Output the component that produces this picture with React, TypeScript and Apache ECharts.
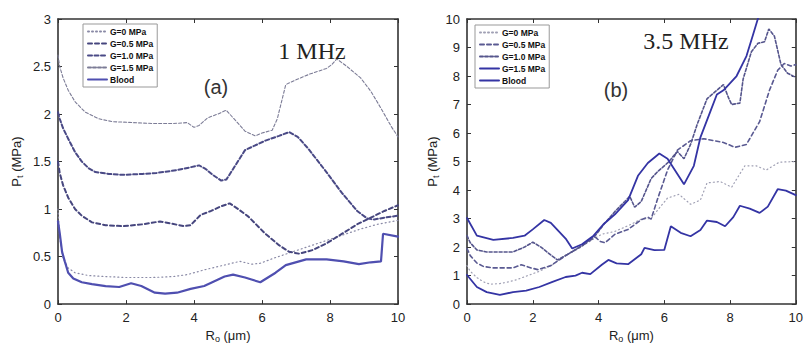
import React, { useEffect, useRef } from "react";
import * as echarts from "echarts";

// ---------- Data ----------
const xTicks = [0, 2, 4, 6, 8, 10];
const legendNames = ["G=0 MPa", "G=0.5 MPa", "G=1.0 MPa", "G=1.5 MPa", "Blood"];

// Panel (a) 1 MHz
const aG0 = [[0,1.0],[0.05,0.7],[0.15,0.48],[0.3,0.38],[0.5,0.33],[0.9,0.3],[1.4,0.29],[2.0,0.28],[2.8,0.28],[3.4,0.29],[3.8,0.31],[4.3,0.36],[5.0,0.42],[5.35,0.45],[5.7,0.42],[5.95,0.43],[6.4,0.49],[6.9,0.55],[7.4,0.61],[7.9,0.67],[8.4,0.73],[8.9,0.79],[9.4,0.84],[10,0.88]];
const aG05 = [[0,1.5],[0.05,1.38],[0.15,1.25],[0.3,1.12],[0.5,1.0],[0.7,0.93],[1.0,0.86],[1.4,0.83],[1.9,0.82],[2.5,0.84],[3.0,0.87],[3.3,0.85],[3.7,0.82],[3.9,0.83],[4.2,0.94],[4.5,0.98],[4.8,1.03],[5.05,1.06],[5.3,1.0],[5.6,0.92],[6.1,0.74],[6.5,0.62],[6.8,0.55],[7.1,0.53],[7.5,0.57],[7.9,0.64],[8.4,0.75],[8.8,0.84],[9.2,0.91],[9.6,0.98],[10,1.04]];
const aG10 = [[0,2.02],[0.05,1.95],[0.15,1.85],[0.3,1.74],[0.5,1.6],[0.7,1.5],[0.9,1.43],[1.1,1.39],[1.5,1.37],[1.9,1.36],[2.5,1.37],[2.9,1.38],[3.5,1.41],[3.9,1.44],[4.15,1.46],[4.35,1.42],[4.55,1.36],[4.8,1.3],[4.95,1.31],[5.2,1.45],[5.5,1.62],[6.1,1.72],[6.5,1.77],[6.8,1.81],[7.05,1.76],[7.35,1.64],[7.85,1.41],[8.35,1.17],[8.8,0.98],[9.1,0.9],[9.3,0.89],[9.6,0.91],[10,0.93]];
const aG15 = [[0,2.62],[0.05,2.5],[0.15,2.38],[0.3,2.25],[0.5,2.13],[0.8,2.02],[1.2,1.95],[1.6,1.92],[2.2,1.91],[2.8,1.9],[3.4,1.9],[3.8,1.91],[4.0,1.86],[4.15,1.88],[4.4,1.96],[4.7,2.0],[4.95,2.04],[5.2,1.94],[5.5,1.82],[5.8,1.77],[6.0,1.8],[6.3,1.83],[6.45,1.95],[6.7,2.31],[7.0,2.36],[7.4,2.42],[7.9,2.48],[8.05,2.52],[8.2,2.58],[8.5,2.5],[8.9,2.38],[9.2,2.24],[9.5,2.06],[9.8,1.87],[10,1.76]];
const aBlood = [[0,0.87],[0.05,0.75],[0.12,0.55],[0.2,0.45],[0.3,0.33],[0.45,0.27],[0.7,0.23],[1.0,0.21],[1.4,0.19],[1.8,0.18],[2.15,0.22],[2.45,0.19],[2.85,0.12],[3.15,0.11],[3.5,0.12],[3.9,0.16],[4.3,0.19],[4.6,0.24],[4.9,0.29],[5.15,0.31],[5.5,0.28],[5.95,0.23],[6.4,0.33],[6.7,0.41],[7.3,0.47],[7.9,0.47],[8.4,0.45],[8.85,0.42],[9.2,0.44],[9.5,0.45],[9.56,0.74],[10,0.71]];

// Panel (b) 3.5 MHz
const bG0 = [[0,1.35],[0.1,1.15],[0.3,0.93],[0.5,0.78],[0.7,0.7],[1.0,0.72],[1.2,0.76],[1.5,0.85],[1.8,0.98],[2.2,1.15],[2.6,1.38],[3.0,1.72],[3.4,1.95],[3.8,2.25],[4.1,2.45],[4.5,2.55],[4.9,2.75],[5.3,2.98],[5.6,3.0],[5.8,3.3],[6.1,3.72],[6.45,3.85],[6.8,3.5],[7.1,3.65],[7.3,4.25],[7.7,4.3],[8.05,4.1],[8.45,4.85],[8.8,4.85],[9.1,4.7],[9.5,4.98],[10,5.0]];
const bG05 = [[0,1.95],[0.1,1.7],[0.3,1.44],[0.5,1.32],[0.8,1.27],[1.4,1.27],[1.65,1.38],[1.95,1.27],[2.15,1.21],[2.55,1.35],[3.0,1.7],[3.5,2.05],[3.9,2.35],[4.05,2.2],[4.2,2.15],[4.5,2.45],[4.9,2.62],[5.3,2.96],[5.5,3.05],[5.6,2.98],[5.8,3.7],[6.1,4.7],[6.4,5.4],[6.8,5.73],[7.2,5.8],[7.8,5.67],[8.15,5.5],[8.5,5.6],[8.9,6.4],[9.2,7.5],[9.45,8.2],[9.65,8.44],[9.85,8.35],[10,8.4]];
const bG10 = [[0,2.4],[0.1,2.15],[0.3,1.9],[0.6,1.83],[1.4,1.83],[1.75,2.0],[2.0,2.17],[2.25,2.0],[2.55,1.72],[2.75,1.55],[3.0,1.7],[3.5,2.05],[3.9,2.4],[4.2,2.85],[4.5,3.25],[4.8,3.6],[4.95,3.78],[5.1,3.4],[5.3,3.6],[5.6,4.4],[5.8,4.65],[6.1,4.95],[6.4,5.35],[6.6,5.1],[6.8,5.6],[7.0,6.3],[7.3,7.2],[7.55,7.45],[7.8,7.7],[7.95,7.25],[8.05,7.0],[8.3,7.05],[8.4,7.9],[8.65,8.85],[8.85,9.15],[9.05,9.2],[9.18,9.65],[9.35,9.4],[9.55,8.4],[9.75,8.1],[10,7.95]];
const bG15 = [[0,3.02],[0.3,2.4],[0.8,2.25],[1.4,2.32],[1.75,2.4],[2.0,2.62],[2.35,2.95],[2.55,2.85],[3.0,2.3],[3.2,1.95],[3.5,2.1],[3.85,2.4],[4.15,2.8],[4.5,3.15],[4.9,3.65],[5.2,4.5],[5.5,4.95],[5.85,5.28],[6.1,5.1],[6.6,4.2],[6.9,4.85],[7.1,5.85],[7.4,6.75],[7.6,7.35],[7.8,7.5],[8.2,8.0],[8.5,8.7],[8.7,9.45],[8.85,10.02],[8.95,10.5]];
const bBlood = [[0,1.02],[0.3,0.6],[0.6,0.42],[1.0,0.32],[1.4,0.42],[1.8,0.47],[2.2,0.6],[2.6,0.78],[3.0,0.95],[3.3,1.0],[3.5,1.1],[3.75,1.05],[4.1,1.38],[4.3,1.55],[4.55,1.43],[4.9,1.4],[5.3,1.75],[5.4,1.97],[5.7,1.89],[6.0,1.9],[6.2,2.73],[6.5,2.5],[6.8,2.38],[7.1,2.6],[7.3,2.93],[7.6,2.88],[7.85,2.73],[8.1,3.05],[8.3,3.45],[8.6,3.35],[8.9,3.2],[9.15,3.42],[9.45,4.03],[9.7,3.98],[10,3.82]];

const FONT = "Liberation Sans";
const ZW = "\u200b";

function line(name: string, data: number[][], idx: number, color: string, width: number, type: any, z = 2) {
  return {
    type: "line",
    name,
    data,
    xAxisIndex: idx,
    yAxisIndex: idx,
    symbol: "none",
    showSymbol: false,
    z,
    lineStyle: { color, width, type, cap: "round" },
    itemStyle: { color },
    emphasis: { disabled: true },
  };
}

function axisBase(extra: any) {
  return {
    type: "value",
    axisLine: { show: true, onZero: false, lineStyle: { color: "#333", width: 1.6 } },
    axisTick: { show: true, inside: true, length: 4, lineStyle: { color: "#333", width: 1 } },
    splitLine: { show: false },
    axisLabel: { color: "#222", fontSize: 13, fontFamily: FONT, margin: 7 },
    ...extra,
  };
}

const xName = "{n|R}{s|o}{n| (μm)}";
const yName = "{n|P}{s|t}{n| (MPa)}";
const nameRich = {
  n: { fontSize: 13, fontFamily: FONT, color: "#222" },
  s: { fontSize: 9, fontFamily: FONT, color: "#222", padding: [6, 0, 0, 0] },
};

export default function App() {
  const ref = useRef<HTMLDivElement>(null);
  useEffect(() => {
    document.body.style.margin = "0";
    const chart = echarts.init(ref.current!, null, { renderer: "svg" });
    const legendCommon = {
      orient: "vertical",
      itemWidth: 19,
      itemHeight: 8,
      itemGap: 3,
      padding: [3, 4, 3, 4],
      borderColor: "#999",
      borderWidth: 1,
      backgroundColor: "#fff",
      selectedMode: false,
      itemStyle: { color: "rgba(0,0,0,0)", borderColor: "rgba(0,0,0,0)", borderWidth: 0 },
      textStyle: { fontSize: 8.5, fontWeight: "bold", fontFamily: FONT, color: "#111", padding: [0, 0, 0, -2] },
      formatter: (n: string) => n.replace(ZW, ""),
    };
    const option: any = {
      animation: false,
      backgroundColor: "#fff",
      grid: [
        { left: 58, top: 19, width: 340, height: 295 },
        { left: 467, top: 19, width: 339, height: 295 },
      ],
      xAxis: [
        axisBase({ gridIndex: 0, min: 0, max: 10, interval: 2, position: "bottom", name: xName, nameLocation: "middle", nameGap: 21, nameTextStyle: { rich: nameRich } }),
        axisBase({ gridIndex: 1, min: 0, max: 10, interval: 2, position: "bottom", name: xName, nameLocation: "middle", nameGap: 21, nameTextStyle: { rich: nameRich } }),
        axisBase({ gridIndex: 0, min: 0, max: 10, interval: 2, position: "top", axisLabel: { show: false } }),
        axisBase({ gridIndex: 1, min: 0, max: 10, interval: 2, position: "top", axisLabel: { show: false } }),
      ],
      yAxis: [
        axisBase({ gridIndex: 0, min: 0, max: 3, interval: 0.5, position: "left", name: yName, nameLocation: "middle", nameGap: 34, nameRotate: 90, nameTextStyle: { rich: nameRich } }),
        axisBase({ gridIndex: 1, min: 0, max: 10, interval: 1, position: "left", name: yName, nameLocation: "middle", nameGap: 27, nameRotate: 90, nameTextStyle: { rich: nameRich } }),
        axisBase({ gridIndex: 0, min: 0, max: 3, interval: 0.5, position: "right", axisLabel: { show: false } }),
        axisBase({ gridIndex: 1, min: 0, max: 10, interval: 1, position: "right", axisLabel: { show: false } }),
      ],
      legend: [
        { ...legendCommon, left: 83, top: 24, data: legendNames },
        { ...legendCommon, left: 475, top: 25, data: legendNames.map((n) => n + ZW) },
      ],
      series: [
        line(legendNames[0], aG0, 0, "#8a8aa6", 1.2, [1, 3]),
        line(legendNames[1], aG05, 0, "#46467e", 2, [4, 3]),
        line(legendNames[2], aG10, 0, "#4a4a86", 2, [4, 2.5]),
        line(legendNames[3], aG15, 0, "#7c7c96", 1.1, [3, 2]),
        line(legendNames[4], aBlood, 0, "#4f4fb0", 2.2, "solid", 3),
        line(legendNames[0] + ZW, bG0, 1, "#a0a0b4", 1.2, [1, 3]),
        line(legendNames[1] + ZW, bG05, 1, "#5a5a92", 1.6, [4, 3]),
        line(legendNames[2] + ZW, bG10, 1, "#55558c", 1.6, [3, 2]),
        line(legendNames[3] + ZW, bG15, 1, "#3434a4", 1.8, "solid", 3),
        line(legendNames[4] + ZW, bBlood, 1, "#3434a4", 1.8, "solid", 3),
      ],
      graphic: [
        { type: "text", x: 312, y: 51, z: 10, style: { text: "1 MHz", font: '24px "Liberation Serif"', fill: "#222", align: "center", verticalAlign: "middle", textAlign: "center", textVerticalAlign: "middle" } },
        { type: "text", x: 216, y: 87, z: 10, style: { text: "(a)", font: '20px "Liberation Sans"', fill: "#333", align: "center", verticalAlign: "middle", textAlign: "center", textVerticalAlign: "middle" } },
        { type: "text", x: 686, y: 41, z: 10, style: { text: "3.5 MHz", font: '24px "Liberation Serif"', fill: "#222", align: "center", verticalAlign: "middle", textAlign: "center", textVerticalAlign: "middle" } },
        { type: "text", x: 616, y: 90, z: 10, style: { text: "(b)", font: '20px "Liberation Sans"', fill: "#333", align: "center", verticalAlign: "middle", textAlign: "center", textVerticalAlign: "middle" } },
      ],
    };
    chart.setOption(option);
    return () => chart.dispose();
  }, []);
  return <div ref={ref} style={{ position: "fixed", left: 0, top: 0, width: 806, height: 348 }} />;
}
